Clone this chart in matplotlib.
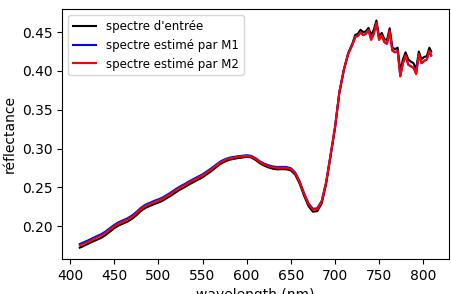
import matplotlib
matplotlib.use("Agg")
import matplotlib.pyplot as plt

wavelength = [411, 415, 420, 425, 430, 435, 440, 445, 450, 455, 460, 465, 470, 475, 480,
              485, 490, 495, 500, 505, 510, 515, 520, 525, 530, 535, 540, 545, 550, 555,
              560, 565, 570, 575, 580, 585, 590, 595, 600, 605, 610, 615, 620, 625, 630,
              635, 640, 645, 650, 655, 660, 665, 670, 675, 680, 685, 690, 695, 700, 705,
              710, 715, 720,
              723, 726, 729, 732, 735, 738, 741, 744, 747, 750, 753, 756, 759, 762, 765,
              768, 771, 774, 777, 780, 783, 786, 789, 792, 795, 798, 801, 804, 807, 809]

# spectre d'entrée
spectre_entree = [0.1725, 0.1745, 0.1772, 0.1800, 0.1825, 0.1850, 0.1885, 0.1930, 0.1975, 0.2010,
                  0.2035, 0.2060, 0.2095, 0.2140, 0.2195, 0.2235, 0.2260, 0.2285, 0.2305, 0.2330,
                  0.2365, 0.2400, 0.2440, 0.2475, 0.2505, 0.2540, 0.2570, 0.2600, 0.2630, 0.2670,
                  0.2710, 0.2755, 0.2800, 0.2832, 0.2855, 0.2867, 0.2878, 0.2885, 0.2895, 0.2888,
                  0.2855, 0.2812, 0.2780, 0.2757, 0.2740, 0.2733, 0.2735, 0.2734, 0.2720, 0.2665,
                  0.2550, 0.2395, 0.2262, 0.2188, 0.2195, 0.2295, 0.2545, 0.2900, 0.3260, 0.3720,
                  0.4010, 0.4230, 0.4360,
                  0.4465, 0.4480, 0.4530, 0.4500, 0.4510, 0.4555, 0.4465, 0.4530, 0.4650, 0.4440,
                  0.4490, 0.4410, 0.4400, 0.4550, 0.4300, 0.4280, 0.4300, 0.3995, 0.4150, 0.4240,
                  0.4150, 0.4120, 0.4100, 0.4020, 0.4250, 0.4150, 0.4180, 0.4190, 0.4300, 0.4250]

# spectre estimé par M1
spectre_m1 = [0.1772, 0.1792, 0.1817, 0.1845, 0.1872, 0.1897, 0.1932, 0.1976, 0.2018, 0.2053,
              0.2078, 0.2103, 0.2138, 0.2183, 0.2236, 0.2276, 0.2301, 0.2326, 0.2347, 0.2372,
              0.2406, 0.2442, 0.2481, 0.2516, 0.2546, 0.2580, 0.2610, 0.2640, 0.2669, 0.2708,
              0.2747, 0.2790, 0.2833, 0.2862, 0.2882, 0.2893, 0.2902, 0.2908, 0.2915, 0.2908,
              0.2878, 0.2836, 0.2806, 0.2785, 0.2770, 0.2763, 0.2765, 0.2763, 0.2748, 0.2693,
              0.2580, 0.2427, 0.2297, 0.2225, 0.2232, 0.2328, 0.2570, 0.2918, 0.3272, 0.3726,
              0.4012, 0.4220, 0.4343,
              0.4438, 0.4452, 0.4495, 0.4462, 0.4478, 0.4525, 0.4405, 0.4476, 0.4615, 0.4405,
              0.4455, 0.4372, 0.4352, 0.4515, 0.4263, 0.4242, 0.4258, 0.3935, 0.4098, 0.4198,
              0.4082, 0.4062, 0.4042, 0.3965, 0.4218, 0.4102, 0.4128, 0.4148, 0.4255, 0.4198]

# spectre estimé par M2
spectre_m2 = [0.1755, 0.1775, 0.1800, 0.1828, 0.1855, 0.1880, 0.1915, 0.1960, 0.2003, 0.2038,
              0.2063, 0.2088, 0.2123, 0.2168, 0.2222, 0.2262, 0.2287, 0.2312, 0.2333, 0.2358,
              0.2392, 0.2428, 0.2467, 0.2502, 0.2532, 0.2566, 0.2596, 0.2626, 0.2656, 0.2695,
              0.2735, 0.2778, 0.2822, 0.2852, 0.2873, 0.2884, 0.2894, 0.2900, 0.2908, 0.2901,
              0.2870, 0.2827, 0.2796, 0.2775, 0.2760, 0.2753, 0.2755, 0.2753, 0.2738, 0.2683,
              0.2570, 0.2417, 0.2287, 0.2215, 0.2222, 0.2320, 0.2565, 0.2915, 0.3270, 0.3725,
              0.4012, 0.4220, 0.4345,
              0.4440, 0.4450, 0.4500, 0.4460, 0.4480, 0.4530, 0.4400, 0.4480, 0.4620, 0.4400,
              0.4460, 0.4370, 0.4350, 0.4520, 0.4260, 0.4240, 0.4260, 0.3930, 0.4100, 0.4200,
              0.4080, 0.4060, 0.4040, 0.3960, 0.4220, 0.4100, 0.4130, 0.4150, 0.4260, 0.4200]

fig = plt.figure(figsize=(4.51, 2.94), dpi=100)
ax = fig.add_subplot(1, 1, 1)
fig.subplots_adjust(left=0.138, right=0.995, bottom=0.119, top=0.969)

ax.plot(wavelength, spectre_entree, color="black", label="spectre d'entrée")
ax.plot(wavelength, spectre_m1, color="blue", label="spectre estimé par M1")
ax.plot(wavelength, spectre_m2, color="red", label="spectre estimé par M2")

ax.set_xlabel("wavelength (nm)")
ax.set_ylabel("réflectance")
ax.legend(loc="upper left", fontsize=8.5)

fig.savefig("out.png", dpi=100)
